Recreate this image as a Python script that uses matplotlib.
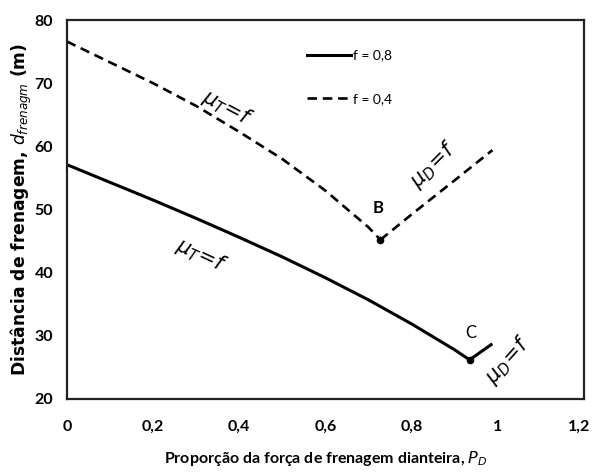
import matplotlib
matplotlib.use("Agg")
import matplotlib.pyplot as plt
from matplotlib.transforms import ScaledTranslation

# Data
x_f04_T = [0.0, 0.1, 0.2, 0.3, 0.4, 0.5, 0.6, 0.7, 0.728]
y_f04_T = [76.6, 73.3, 70.0, 66.4, 62.3, 58.0, 53.0, 47.2, 45.2]
x_f04_D = [0.728, 0.8, 0.9, 0.988]
y_f04_D = [45.2, 49.2, 54.6, 59.4]

x_f08_T = [0.0, 0.1, 0.2, 0.3, 0.4, 0.5, 0.6, 0.7, 0.8, 0.9, 0.935]
y_f08_T = [57.1, 54.3, 51.5, 48.6, 45.6, 42.5, 39.2, 35.7, 31.9, 27.8, 26.2]
x_f08_D = [0.935, 0.985]
y_f08_D = [26.2, 28.6]

point_B = (0.728, 45.2)
point_C = (0.935, 26.2)

xticks = [0, 0.2, 0.4, 0.6, 0.8, 1.0, 1.2]
xtick_labels = ["0", "0,2", "0,4", "0,6", "0,8", "1", "1,2"]
yticks = [20, 30, 40, 50, 60, 70, 80]
legend_labels = ["f = 0,8", "f = 0,4"]

plt.rcParams['font.family'] = ['Lato', 'DejaVu Sans']

fig = plt.figure(figsize=(5.92, 4.72), dpi=100)
ax = fig.add_axes([0.113, 0.1547, 0.873, 0.8029])

dash = (0, (3.6, 2.2))
l1, = ax.plot(x_f08_T, y_f08_T, color='black', lw=2.2)
ax.plot(x_f08_D, y_f08_D, color='black', lw=2.2)
l2, = ax.plot(x_f04_T, y_f04_T, color='black', lw=1.9, linestyle=dash)
ax.plot(x_f04_D, y_f04_D, color='black', lw=1.9, linestyle=dash)
ax.plot(*point_B, 'o', color='black', ms=4.5)
ax.plot(*point_C, 'o', color='black', ms=4.5)

ax.text(0.723, 50.3, "B", fontsize=12, fontweight='bold', ha='center', va='center')
ax.text(0.937, 30.5, "C", fontsize=12, ha='center', va='center')

ax.text(0.372, 66.0, r"$\mu_T\!=\!f$", fontsize=15, rotation=-28, ha='center', va='center')
ax.text(0.312, 42.7, r"$\mu_T\!=\!f$", fontsize=15, rotation=-25, ha='center', va='center')
ax.text(0.851, 57.1, r"$\mu_D\!=\!f$", fontsize=15, rotation=45, ha='center', va='center')
ax.text(1.023, 26.2, r"$\mu_D\!=\!f$", fontsize=15, rotation=48, ha='center', va='center')

ax.legend([l1, l2], legend_labels, loc='upper left', bbox_to_anchor=(0.44, 0.955),
          frameon=False, fontsize=10, handlelength=3.2, handletextpad=0.15,
          labelspacing=2.25)

ax.set_xlim(0, 1.2)
ax.set_ylim(20, 80)
ax.set_xticks(xticks)
ax.set_xticklabels(xtick_labels)
ax.set_yticks(yticks)
ax.tick_params(length=0, labelsize=11.5)
ax.tick_params(axis='x', pad=15)
ax.tick_params(axis='y', pad=10)
for lab in ax.get_xticklabels() + ax.get_yticklabels():
    lab.set_fontweight('bold')
last = ax.get_xticklabels()[-1]
last.set_transform(last.get_transform() + ScaledTranslation(-3 / 72, 0, fig.dpi_scale_trans))
for sp in ax.spines.values():
    sp.set_linewidth(1.6)
    sp.set_color('#222222')

ax.set_xlabel(r"Proporção da força de frenagem dianteira, $\boldsymbol{P_D}$", fontsize=11.5,
              fontweight='bold', labelpad=11)
ax.set_ylabel(r"Distância de frenagem, $d_{frenagm}$ (m)", fontsize=12.3,
              fontweight='bold', family=['DejaVu Sans'], labelpad=0)

fig.savefig("out.png", dpi=100)
